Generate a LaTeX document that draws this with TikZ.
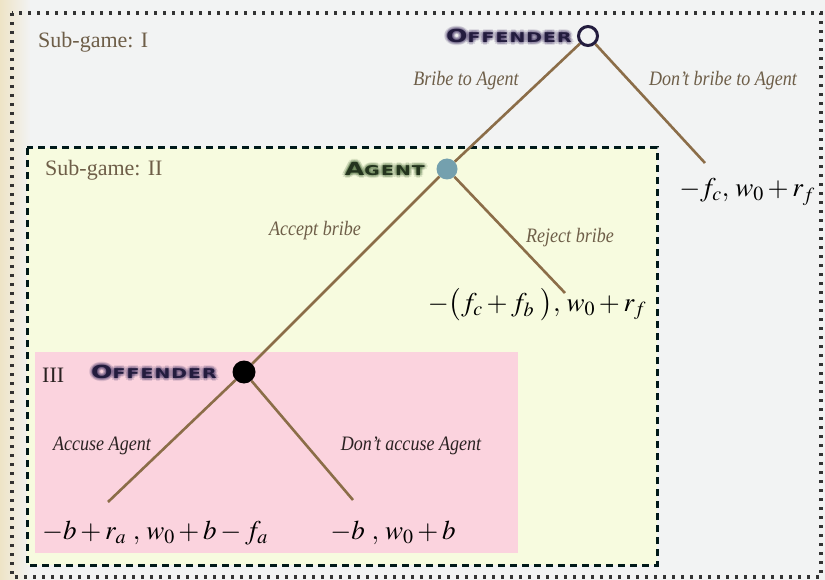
\documentclass[tikz,border=0pt]{standalone}
\usepackage{mathptmx}
\usepackage[no-math]{fontspec}
\usetikzlibrary{calc}
\setmainfont{Liberation Serif}
\newfontfamily\labfont[FakeStretch=0.88]{Liberation Serif}
\newfontfamily\capsfont[FakeStretch=1.4,LetterSpace=8]{DejaVu Sans Bold}
\newcommand\capsword[2]{{\fontsize{18}{18}\selectfont #1}{\fontsize{13.5}{13.5}\selectfont #2}}
\definecolor{bgc}{HTML}{F2F3F3}
\definecolor{beigec}{HTML}{EEE4C6}
\definecolor{yelc}{HTML}{F7FBDF}
\definecolor{pinkc}{HTML}{FBD3DE}
\definecolor{edgec}{HTML}{8B6D48}
\definecolor{uplab}{HTML}{6E5E48}
\definecolor{lowlab}{HTML}{2B2222}
\definecolor{offc}{HTML}{231C3E}
\definecolor{offglow}{HTML}{4A3A6A}
\definecolor{agc}{HTML}{24341E}
\definecolor{agglow}{HTML}{4E6E3E}
\definecolor{agfill}{HTML}{74A0AE}
\tikzset{
  branch/.style={draw=edgec, line width=2.6pt},
  lab/.style={font=\labfont\fontsize{20.5}{20.5}\selectfont\itshape, text=uplab, inner sep=0pt},
  lablow/.style={lab, text=lowlab},
  pay/.style={font=\fontsize{27}{27}\selectfont, text=black, inner sep=0pt},
  title/.style={font=\fontsize{22}{22}\selectfont, text=uplab, inner sep=0pt, anchor=west},
  caps/.style={inner sep=0pt, anchor=east},
  glow/.style={caps, text opacity=0.14},
  dotbox/.style={draw=black!80, line width=3.2pt, dash pattern=on 3pt off 6pt},
  dashbox/.style={draw=black!80!teal, line width=3pt, dash pattern=on 7pt off 5pt},
}
\begin{document}
\begin{tikzpicture}[x=1pt,y=-1pt]
\useasboundingbox (0,0) rectangle (825,580);
\fill[bgc] (0,0) rectangle (825,580);
\shade[left color=beigec, right color=bgc] (0,0) rectangle (30,580);
% boxes
\fill[yelc] (27,148) rectangle (657,565);
\fill[pinkc] (35,352) rectangle (518,553);
\draw[dotbox] (12,13) rectangle (821,577);
\draw[dashbox] (27,148) rectangle (657,565);
% titles
\node[title] (t1) at (38,42) {Sub-game: I};
\node[title] (t2) at (45,170) {Sub-game: II};
\node[title, text=lowlab] (t3) at (42,375) {III};
% decision nodes
\node[circle, draw=offc, fill=bgc, line width=3pt, minimum size=19pt, inner sep=0pt] (root) at (588,36) {};
\node[circle, fill=agfill, minimum size=21pt, inner sep=0pt] (agent) at (447,169) {};
\node[circle, fill=black, minimum size=23pt, inner sep=0pt] (off2) at (244,372) {};
% leaf ends
\coordinate (l1) at (705,163);
\coordinate (l2) at (565,293);
\coordinate (l3) at (108,502);
\coordinate (l4) at (353,500);
% branches
\draw[branch] (root) -- (agent);
\draw[branch] (root) -- (l1);
\draw[branch] (agent) -- (off2);
\draw[branch] (agent) -- (l2);
\draw[branch] (off2) -- (l3);
\draw[branch] (off2) -- (l4);
% player labels with glow
\foreach \a in {0,45,...,315}{
  \foreach \r in {1.6,3.2}{
    \node[glow, text=offglow] (g1-\a-\r) at ($(572,36)+(\a:\r)$) {\capsfont\capsword{O}{FFENDER}};
    \node[glow, text=agglow] (g2-\a-\r) at ($(425,169)+(\a:\r)$) {\capsfont\capsword{A}{GENT}};
    \node[glow, text=offglow] (g3-\a-\r) at ($(217,372)+(\a:\r)$) {\capsfont\capsword{O}{FFENDER}};
  }
}
\node[caps, text=offc] (n1) at (572,36) {\capsfont\capsword{O}{FFENDER}};
\node[caps, text=agc] (n2) at (425,169) {\capsfont\capsword{A}{GENT}};
\node[caps, text=offc] (n3) at (217,372) {\capsfont\capsword{O}{FFENDER}};
% branch labels
\node[lab] (b1) at (466,81) {Bribe to Agent};
\node[lab] (b2) at (723,81) {Don’t bribe to Agent};
\node[lab] (b3) at (315,231) {Accept bribe};
\node[lab] (b4) at (570,238) {Reject bribe};
\node[lablow] (b5) at (102,446) {Accuse Agent};
\node[lablow] (b6) at (411,446) {Don’t accuse Agent};
% payoffs
\node[pay] (p1) at (747,192) {$-f_c,\, w_0+r_f$};
\node[pay] (p2) at (537,305) {$-\bigl(f_c+f_b\ \bigr),\, w_0+r_f$};
\node[pay] (p3) at (155,533) {$-b+r_a\ ,\, w_0+b-f_a$};
\node[pay] (p4) at (393,533) {$-b\ ,\, w_0+b$};
\end{tikzpicture}
\end{document}
